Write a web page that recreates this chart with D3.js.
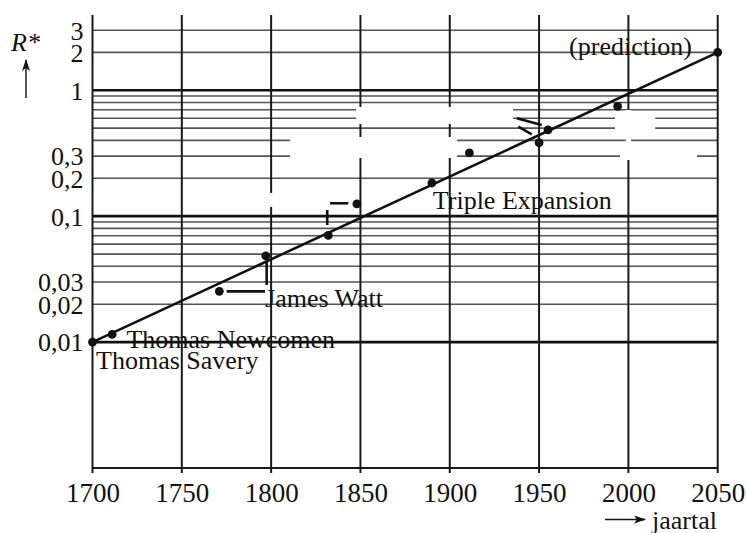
<!DOCTYPE html>
<html>
<head>
<meta charset="utf-8">
<script src="https://cdn.jsdelivr.net/npm/d3@7"></script>
<style>
  body { margin: 0; background: #fff; }
  text { font-family: "Liberation Serif", "Times New Roman", serif; fill: #111; }
</style>
</head>
<body>
<script>
// data
const years  = [1700, 1711, 1771, 1797, 1832, 1848, 1890, 1911, 1950, 1955, 1994, 2050];
const ratios = [0.01, 0.0115, 0.0253, 0.0483, 0.0705, 0.125, 0.1835, 0.318, 0.3835, 0.484, 0.746, 2];

const trendYears  = [1700, 2050];
const trendValues = [0.01, 2];

const xTicks = [1700, 1750, 1800, 1850, 1900, 1950, 2000, 2050];
const yTickValues = [3, 2, 1, 0.3, 0.2, 0.1, 0.03, 0.02, 0.01];
const yTickLabels = ["3", "2", "1", "0,3", "0,2", "0,1", "0,03", "0,02", "0,01"];

const majorGrid = [0.01, 0.1, 1];
const minorGrid = [0.02, 0.03, 0.04, 0.05, 0.06, 0.07, 0.08, 0.09,
                   0.2, 0.3, 0.4, 0.5, 0.6, 0.7, 0.8, 0.9, 2, 3];

// labels: [text, year, value at baseline]
const labels = [
  ["Thomas Savery", 1702, 0.00611],
  ["Thomas Newcomen", 1719, 0.0089],
  ["James Watt", 1796.6, 0.019],
  ["Triple Expansion", 1890.5, 0.114],
  ["(prediction)", 1966.8, 1.908]
];

// leader lines: [year1, value1, year2, value2]
const leaders = [
  [1775.1, 0.0253, 1796.6, 0.0253],
  [1797.5, 0.0433, 1797.5, 0.0284],
  [1833.0, 0.1266, 1843.2, 0.1266],
  [1831.4, 0.112, 1831.4, 0.0851],
  [1937.5, 0.599, 1951.5, 0.530],
  [1938.4, 0.514, 1945.9, 0.447]
];

// erased (whited-out) label areas: [yearFrom, yearTo, valueTop, valueBottom]
const erased = [
  [1847.6, 1935.4, 0.737, 0.540],
  [1810.6, 1904.1, 0.4256, 0.290],
  [1992.5, 2015.0, 0.648, 0.475],
  [1995.3, 2038.4, 0.3356, 0.2795],
  [1998.5, 2001.5, 0.6975, 0.290],
  [1798.0, 1802.0, 0.1529, 0.1184]
];

const W = 747, H = 533;
const svg = d3.select('body').append('svg')
    .attr('width', W)
    .attr('height', H);

const x = d3.scaleLinear().domain([1700, 2050]).range([92.5, 717.7]);
const y = d3.scaleLog().domain([0.001, 3.96]).range([468, 15]);

const plotTop = y.range()[1], plotBottom = y.range()[0];

// horizontal grid
svg.append('g').selectAll('line')
    .data(minorGrid)
    .join('line')
    .attr('x1', x(1700)).attr('x2', x(2050))
    .attr('y1', d => y(d)).attr('y2', d => y(d))
    .attr('stroke', '#555').attr('stroke-width', 1.6);

svg.append('g').selectAll('line')
    .data(majorGrid)
    .join('line')
    .attr('x1', x(1700)).attr('x2', x(2050))
    .attr('y1', d => y(d)).attr('y2', d => y(d))
    .attr('stroke', '#111').attr('stroke-width', 2.6);

// vertical grid
svg.append('g').selectAll('line')
    .data(xTicks)
    .join('line')
    .attr('x1', d => x(d)).attr('x2', d => x(d))
    .attr('y1', plotTop).attr('y2', plotBottom + 5)
    .attr('stroke', '#1a1a1a').attr('stroke-width', 2);

// bottom axis line
svg.append('line')
    .attr('x1', x(1700)).attr('x2', x(2050))
    .attr('y1', plotBottom).attr('y2', plotBottom)
    .attr('stroke', '#1a1a1a').attr('stroke-width', 2);

// whited-out labels
svg.append('g').selectAll('rect')
    .data(erased)
    .join('rect')
    .attr('x', d => x(d[0]))
    .attr('width', d => x(d[1]) - x(d[0]))
    .attr('y', d => y(d[2]))
    .attr('height', d => y(d[3]) - y(d[2]))
    .attr('fill', '#fff');

// tick labels
const xAxis = d3.axisBottom(x).tickValues(xTicks).tickSize(0).tickFormat(d3.format('d'));
const gx = svg.append('g')
    .attr('transform', 'translate(0,' + plotBottom + ')')
    .call(xAxis);
gx.select('.domain').remove();
gx.selectAll('text')
    .attr('y', 0).attr('dy', 33.5)
    .style('font-size', '27px')
    .attr('fill', '#111');

const yAxis = d3.axisLeft(y).tickValues(yTickValues).tickSize(0)
    .tickFormat((d, i) => yTickLabels[i]);
const gy = svg.append('g')
    .attr('transform', 'translate(' + (x(1700) - 9) + ',0)')
    .call(yAxis);
gy.select('.domain').remove();
gy.selectAll('text')
    .attr('x', 0).attr('dy', '0.34em')
    .style('font-size', '26px')
    .attr('fill', '#111');

// trend line
svg.append('path')
    .datum(d3.zip(trendYears, trendValues))
    .attr('d', d3.line().x(d => x(d[0])).y(d => y(d[1])))
    .attr('fill', 'none')
    .attr('stroke', '#111')
    .attr('stroke-width', 2.6);

// leader lines
svg.append('g').selectAll('line')
    .data(leaders)
    .join('line')
    .attr('x1', d => x(d[0])).attr('y1', d => y(d[1]))
    .attr('x2', d => x(d[2])).attr('y2', d => y(d[3]))
    .attr('stroke', '#111').attr('stroke-width', 2.6);

// points
svg.append('g').selectAll('circle')
    .data(d3.zip(years, ratios))
    .join('circle')
    .attr('cx', d => x(d[0]))
    .attr('cy', d => y(d[1]))
    .attr('r', 4.4)
    .attr('fill', '#111');

// annotations
svg.append('g').selectAll('text')
    .data(labels)
    .join('text')
    .attr('x', d => x(d[1]))
    .attr('y', d => y(d[2]))
    .style('font-size', '26px')
    .text(d => d[0]);

// axis titles with arrows
svg.append('defs').append('marker')
    .attr('id', 'head')
    .attr('viewBox', '0 0 12 8')
    .attr('refX', 11).attr('refY', 4)
    .attr('markerWidth', 12).attr('markerHeight', 8)
    .attr('markerUnits', 'userSpaceOnUse')
    .attr('orient', 'auto')
    .append('path')
    .attr('d', 'M0,0 L12,4 L0,8 L3,4 Z')
    .attr('fill', '#111');

svg.append('text')
    .attr('x', 11).attr('y', 50.5)
    .style('font-size', '26px')
    .style('font-style', 'italic')
    .text('R*');

svg.append('line')
    .attr('x1', 26).attr('y1', 98)
    .attr('x2', 26).attr('y2', 60)
    .attr('stroke', '#111').attr('stroke-width', 1.4)
    .attr('marker-end', 'url(#head)');

svg.append('line')
    .attr('x1', 605).attr('y1', 519.5)
    .attr('x2', 645).attr('y2', 519.5)
    .attr('stroke', '#111').attr('stroke-width', 1.4)
    .attr('marker-end', 'url(#head)');

svg.append('text')
    .attr('x', 652).attr('y', 528.5)
    .style('font-size', '26px')
    .text('jaartal');
</script>
</body>
</html>
